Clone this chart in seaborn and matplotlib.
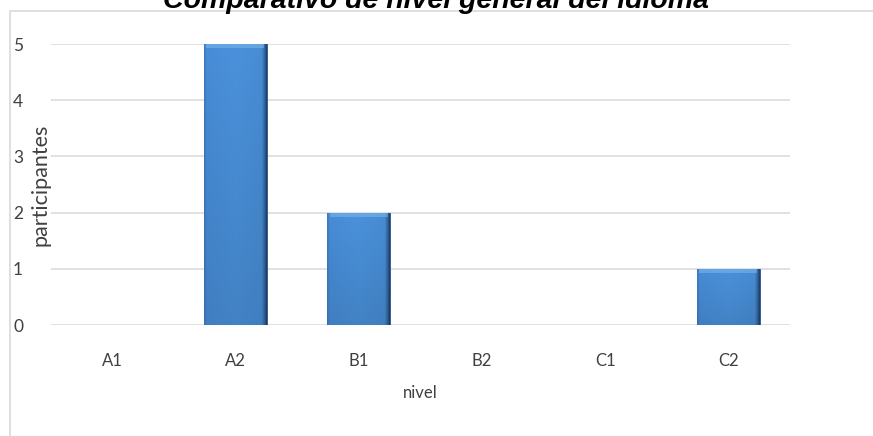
import numpy as np
import pandas as pd
import matplotlib
matplotlib.use("Agg")
import matplotlib.pyplot as plt
from matplotlib.patches import Rectangle
import seaborn as sns

# Data
niveles = ["A1", "A2", "B1", "B2", "C1", "C2"]
participantes = [0, 5, 2, 0, 0, 1]

df = pd.DataFrame({"nivel": niveles, "participantes": participantes})

sns.set_theme(style="white")
plt.rcParams["font.family"] = ["Lato", "DejaVu Sans"]

W, H = 873, 436
fig = plt.figure(figsize=(W / 100, H / 100), dpi=100)
fig.patch.set_facecolor("white")

left, right = 50.5, 790
bottom, top = 325, 44
ax = fig.add_axes([left / W, 1 - bottom / H, (right - left) / W, (bottom - top) / H])

base_color = "#4a8fd8"
sns.barplot(data=df, x="nivel", y="participantes", color=base_color,
            width=0.51, saturation=1, edgecolor="#24507f", linewidth=0.6, ax=ax)

# Bevelled shading on each bar: flat face, darker side edges
stops = [0.0, 0.04, 0.5, 0.92, 0.97, 1.0]
shade = np.array([
    [0.24, 0.47, 0.74],
    [0.28, 0.55, 0.84],
    [0.29, 0.57, 0.86],
    [0.28, 0.55, 0.83],
    [0.19, 0.39, 0.62],
    [0.11, 0.24, 0.40],
])
xs = np.linspace(0, 1, 128)
grad = np.stack([np.interp(xs, stops, shade[:, k]) for k in range(3)], axis=-1)
# slight darkening toward the base
vert = np.linspace(0.9, 1.0, 32)[:, None, None]
img = np.clip(grad[None, :, :] * vert, 0, 1)
for p in ax.patches:
    h = p.get_height()
    if h <= 0:
        continue
    x0, w = p.get_x(), p.get_width()
    im = ax.imshow(img, extent=[x0, x0 + w, 0, h], aspect="auto", origin="lower",
                   interpolation="bilinear", zorder=p.get_zorder() + 0.1)
    im.set_clip_path(p)
    # lighter bevel at the top edge
    ax.add_patch(Rectangle((x0 + 0.02, h - 0.07), w - 0.04, 0.07, facecolor="#7fb8ee",
                           edgecolor="none", alpha=0.55, zorder=p.get_zorder() + 0.2,
                           clip_path=p))

ax.set_xlim(-0.5, len(niveles) - 0.5)
ax.set_ylim(0, 5)
ax.set_yticks(range(0, 6))
ax.yaxis.grid(True, color="#d9d9d9", linewidth=1.1)
ax.set_axisbelow(True)
for s in ax.spines.values():
    s.set_visible(False)

ax.tick_params(axis="y", length=0, pad=27, labelsize=12.5, labelcolor="#404040")
ax.tick_params(axis="x", length=0, pad=20, labelsize=12, labelcolor="#404040")
for t in ax.get_yticklabels():
    t.set_horizontalalignment("left")

ax.set_xlabel("nivel", fontsize=12, color="#404040", labelpad=12)
ax.set_ylabel("participantes", fontsize=15.5, color="#404040")
ax.yaxis.set_label_coords((40 - left) / (right - left), 0.5)
ax.yaxis.label.set_verticalalignment("center")

# Chart frame
fig.patches.append(Rectangle((10 / W, -0.1), 1.2, 1 - 11 / H + 0.1,
                             transform=fig.transFigure, fill=False,
                             edgecolor="#d9d9d9", linewidth=1.2))

fig.text(436 / W, 1 - 7.5 / H, "Comparativo de nivel general del idioma",
         ha="center", va="baseline", fontsize=20.5, fontweight="bold",
         fontstyle="italic", family=["Liberation Sans", "DejaVu Sans"], color="black")

fig.savefig("out.png", dpi=100)
